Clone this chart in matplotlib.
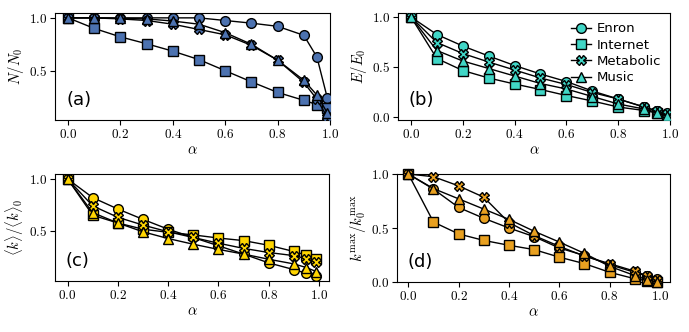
import matplotlib
matplotlib.use("Agg")
import matplotlib.pyplot as plt
from matplotlib.ticker import FuncFormatter, FixedLocator

plt.rcParams['mathtext.fontset'] = 'cm'
plt.rcParams['font.family'] = ['DejaVu Sans']

alpha = [0.0, 0.1, 0.2, 0.3, 0.4, 0.5, 0.6, 0.7, 0.8, 0.9, 0.95, 0.99]
networks = ["Enron", "Internet", "Metabolic", "Music"]

# (a) N/N0
a_enron     = [1.0, 1.0, 1.0, 1.0, 1.0, 1.0, 0.975, 0.95, 0.92, 0.835, 0.63, 0.24]
a_internet  = [1.0, 0.9, 0.82, 0.755, 0.685, 0.605, 0.5, 0.395, 0.295, 0.22, 0.18, 0.145]
a_metabolic = [1.0, 1.0, 0.99, 0.975, 0.94, 0.89, 0.84, 0.74, 0.6, 0.39, 0.23, 0.06]
a_music     = [1.0, 1.0, 0.995, 0.99, 0.97, 0.94, 0.86, 0.75, 0.6, 0.41, 0.27, 0.1]

# (b) E/E0
b_enron     = [1.0, 0.825, 0.71, 0.61, 0.515, 0.43, 0.355, 0.26, 0.18, 0.1, 0.06, 0.04]
b_internet  = [1.0, 0.585, 0.465, 0.39, 0.33, 0.275, 0.215, 0.16, 0.1, 0.065, 0.04, 0.01]
b_metabolic = [1.0, 0.745, 0.635, 0.55, 0.47, 0.39, 0.325, 0.245, 0.18, 0.1, 0.06, 0.03]
b_music     = [1.0, 0.665, 0.56, 0.485, 0.41, 0.335, 0.28, 0.205, 0.13, 0.08, 0.045, 0.01]

# (c) <k>/<k>0
c_enron     = [1.0, 0.82, 0.71, 0.61, 0.515, 0.435, 0.355, 0.275, 0.19, 0.125, 0.09, 0.06]
c_internet  = [1.0, 0.65, 0.575, 0.515, 0.485, 0.46, 0.43, 0.405, 0.36, 0.3, 0.265, 0.225]
c_metabolic = [1.0, 0.74, 0.63, 0.555, 0.49, 0.435, 0.38, 0.33, 0.29, 0.26, 0.23, 0.195]
c_music     = [1.0, 0.675, 0.575, 0.49, 0.425, 0.37, 0.32, 0.275, 0.225, 0.18, 0.145, 0.105]

# (d) kmax/kmax0
d_enron     = [1.0, 0.86, 0.69, 0.59, 0.5, 0.42, 0.315, 0.245, 0.16, 0.09, 0.055, 0.03]
d_internet  = [1.0, 0.555, 0.445, 0.385, 0.34, 0.3, 0.23, 0.17, 0.09, 0.03, 0.012, 0.0]
d_metabolic = [1.0, 0.975, 0.89, 0.785, 0.55, 0.43, 0.33, 0.24, 0.17, 0.1, 0.055, 0.02]
d_music     = [1.0, 0.865, 0.77, 0.675, 0.58, 0.47, 0.37, 0.265, 0.145, 0.06, 0.02, 0.0]

panels = [
    ("(a)", r"$N/N_0$", "#4C72B0", [a_enron, a_internet, a_metabolic, a_music], [0.5, 1.0]),
    ("(b)", r"$E/E_0$", "#40D6C6", [b_enron, b_internet, b_metabolic, b_music], [0.0, 0.5, 1.0]),
    ("(c)", r"$\langle k\rangle/\langle k\rangle_0$", "#FFD500", [c_enron, c_internet, c_metabolic, c_music], [0.5, 1.0]),
    ("(d)", r"$k^{\max}/k_0^{\max}$", "#E8A020", [d_enron, d_internet, d_metabolic, d_music], [0.0, 0.5, 1.0]),
]
markers = ["o", "s", "X", "^"]

W, H = 689, 332
fig = plt.figure(figsize=(W / 100, H / 100), dpi=100)
boxes = [(55, 13, 330, 120), (398, 13, 670, 120), (55, 174, 329, 281), (397, 174, 670, 282)]

fmt = FuncFormatter(lambda v, _: r"$%.1f$" % v)

axes = []
for (lbl, ylab, col, series, yt), (l, t, r, b) in zip(panels, boxes):
    ax = fig.add_axes([l / W, 1 - b / H, (r - l) / W, (b - t) / H])
    axes.append(ax)
    for name, ys, m in zip(networks, series, markers):
        ax.plot(alpha, ys, color="black", lw=1.0, marker=m, markersize=7 if m != "X" else 7,
                markerfacecolor=col, markeredgecolor="black", markeredgewidth=1.0,
                label=name, zorder=3)
    ax.set_ylabel(ylab, fontsize=10.5, labelpad=2)
    ax.set_xlabel(r"$\alpha$", fontsize=10.5, labelpad=1)
    ax.xaxis.set_major_locator(FixedLocator([0.0, 0.2, 0.4, 0.6, 0.8, 1.0]))
    ax.yaxis.set_major_locator(FixedLocator(yt))
    ax.xaxis.set_major_formatter(fmt)
    ax.yaxis.set_major_formatter(fmt)
    ax.tick_params(labelsize=9.5, length=3.5, width=0.8, pad=2)
    for s in ax.spines.values():
        s.set_linewidth(0.8)
    ax.text(0.04, 0.1, lbl, transform=ax.transAxes, fontsize=13, va="bottom", ha="left")

axes[0].set_xlim(-0.05, 1.0)
axes[0].set_ylim(0.034, 1.046)
axes[1].set_xlim(-0.05, 1.0)
axes[1].set_ylim(-0.03, 1.04)
axes[2].set_xlim(-0.05, 1.04)
axes[2].set_ylim(0.015, 1.048)
axes[3].set_xlim(-0.045, 1.04)
axes[3].set_ylim(0.0, 1.0)

for line in axes[3].lines:
    line.set_clip_on(False)

axes[1].legend(loc="upper right", frameon=False, fontsize=9.5, handlelength=1.5,
               handletextpad=0.4, labelspacing=0.25, borderaxespad=0.3)

fig.savefig("out.png", dpi=100)
